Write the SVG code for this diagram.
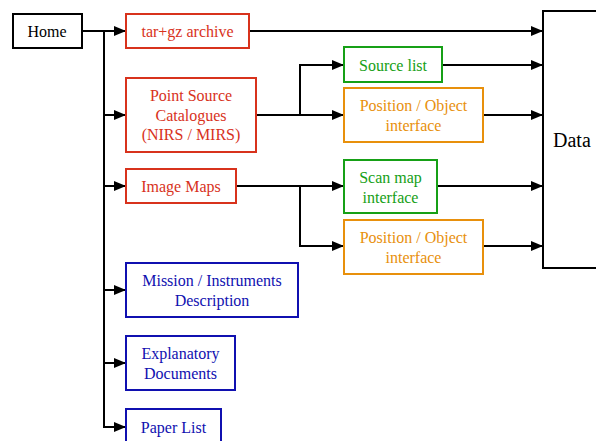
<svg xmlns="http://www.w3.org/2000/svg" width="596" height="441" viewBox="0 0 596 441">
<style>
text{font-family:"Liberation Serif","Times New Roman","DejaVu Serif",serif;font-size:16px;text-anchor:middle;dominant-baseline:central}
rect{fill:#fff;stroke-width:2}
.k rect{stroke:#000}.k text{fill:#000}
.r rect{stroke:#d8321c}.r text{fill:#d8321c}
.g rect{stroke:#16a016}.g text{fill:#16a016}
.o rect{stroke:#e8900c}.o text{fill:#e8900c}
.b rect{stroke:#1010b0}.b text{fill:#1010b0}
#conn path{fill:none;stroke:#000;stroke-width:2}
</style>
<defs><marker id="ah" markerWidth="12" markerHeight="10" refX="12" refY="5" orient="auto" markerUnits="userSpaceOnUse"><path d="M0,0 L12,5 L0,10 Z" fill="#000"/></marker></defs>
<rect width="596" height="441" fill="#fff" stroke="none"/>
<g id="conn">
<path d="M82,31 H126" marker-end="url(#ah)"/>
<path d="M104,31 V427 H126" marker-end="url(#ah)"/>
<path d="M104,115 H126" marker-end="url(#ah)"/>
<path d="M104,186 H126" marker-end="url(#ah)"/>
<path d="M104,290 H126" marker-end="url(#ah)"/>
<path d="M104,363 H126" marker-end="url(#ah)"/>
<path d="M249,31 H543" marker-end="url(#ah)"/>
<path d="M256,115 H344" marker-end="url(#ah)"/>
<path d="M300,115 V65 H344" marker-end="url(#ah)"/>
<path d="M442,65 H543" marker-end="url(#ah)"/>
<path d="M483,115 H543" marker-end="url(#ah)"/>
<path d="M236,186 H344" marker-end="url(#ah)"/>
<path d="M300,186 V246 H344" marker-end="url(#ah)"/>
<path d="M437,186 H543" marker-end="url(#ah)"/>
<path d="M483,246 H543" marker-end="url(#ah)"/>
</g>
<g id="home" class="k"><rect x="13" y="14" width="69" height="34"/><text x="47" y="31">Home</text></g>
<g id="targz" class="r"><rect x="126" y="14" width="123" height="34"/><text x="187.5" y="31">tar+gz archive</text></g>
<g id="psc" class="r"><rect x="126" y="78" width="130" height="74"/><text x="191" y="95">Point Source</text><text x="191" y="115">Catalogues</text><text x="191" y="134">(NIRS / MIRS)</text></g>
<g id="imagemaps" class="r"><rect x="126" y="169" width="110" height="34"/><text x="181" y="186">Image Maps</text></g>
<g id="mission" class="b"><rect x="126" y="263" width="172" height="54"/><text x="212" y="280">Mission / Instruments</text><text x="212" y="300">Description</text></g>
<g id="explanatory" class="b"><rect x="126" y="336" width="109" height="54"/><text x="180.5" y="353">Explanatory</text><text x="180.5" y="373">Documents</text></g>
<g id="paperlist" class="b"><rect x="126" y="409" width="95" height="36"/><text x="173.5" y="427">Paper List</text></g>
<g id="sourcelist" class="g"><rect x="344" y="47" width="98" height="35"/><text x="393" y="65">Source list</text></g>
<g id="pos1" class="o"><rect x="344" y="88" width="139" height="54"/><text x="413.5" y="105">Position / Object</text><text x="413.5" y="125">interface</text></g>
<g id="scanmap" class="g"><rect x="344" y="160" width="93" height="53"/><text x="390.5" y="177">Scan map</text><text x="390.5" y="197">interface</text></g>
<g id="pos2" class="o"><rect x="344" y="220" width="139" height="54"/><text x="413.5" y="237">Position / Object</text><text x="413.5" y="257">interface</text></g>
<g id="data" class="k"><rect x="543" y="11" width="60" height="257"/><text x="553" y="140" style="font-size:20px;text-anchor:start">Data</text></g>
</svg>
